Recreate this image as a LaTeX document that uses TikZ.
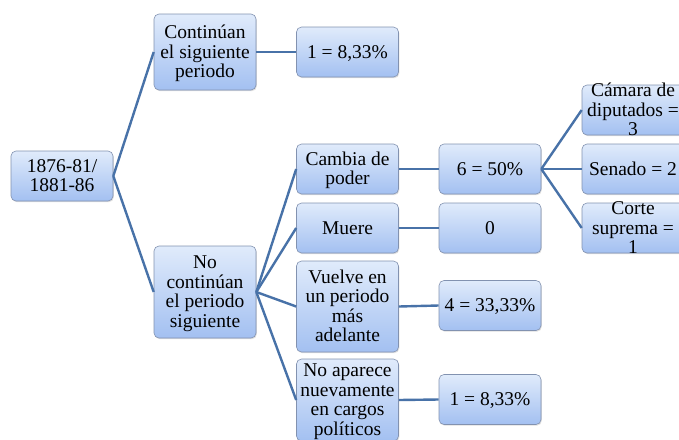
\documentclass[tikz,border=0pt]{standalone}
\usepackage{fontspec}
\setmainfont{Liberation Serif}
\usepackage{xcolor}
\usetikzlibrary{shadows}

\definecolor{boxtop}{RGB}{224,235,251}
\definecolor{boxbottom}{RGB}{163,192,241}
\definecolor{boxline}{RGB}{130,146,176}
\definecolor{linkblue}{RGB}{72,114,168}

\newcommand{\rows}[1]{\raisebox{-7.5pt}[0pt][0pt]{\begin{tabular}{@{}c@{}}#1\end{tabular}}}

\begin{document}
\begin{tikzpicture}[x=1pt, y=-1pt,
      box/.style = {shape=rectangle, rounded corners=5pt, draw=boxline,
        line width=0.6pt, top color=boxtop, bottom color=boxbottom,
        minimum width=102pt, minimum height=50pt, inner sep=0pt,
        drop shadow={shadow xshift=0.8pt, shadow yshift=-1.2pt, opacity=0.25},
        font=\fontsize{19.5}{19.5}\selectfont},
      link/.style = {draw=linkblue, line width=2.4pt}
    ]
      \useasboundingbox (0,0) rectangle (679,439);
      \clip (0,0) rectangle (679,439);

      % root and first split
      \node[box] (root) at (62,176) {\rows{1876-81/\\1881-86}};
      \node[box, minimum height=76pt] (siguen) at (205,52) {\rows{Contin\'uan\\el siguiente\\periodo}};
      \node[box, minimum height=92pt] (nosiguen) at (205,292) {\rows{No\\contin\'uan\\el periodo\\siguiente}};

      % second level
      \node[box] (siguenn) at (347.5,52) {\rows{1 = 8,33\%}};
      \node[box] (cambia) at (347.5,169) {\rows{Cambia de\\poder}};
      \node[box] (muere) at (347.5,228) {\rows{Muere}};
      \node[box, minimum height=91pt] (vuelve) at (347.5,306.5) {\rows{Vuelve en\\un periodo\\m\'as\\adelante}};
      \node[box, minimum height=82pt] (noaparece) at (347.5,400) {\rows{No aparece\\nuevamente\\en cargos\\pol\'iticos}};

      % third level
      \node[box] (cambian) at (490,169) {\rows{6 = 50\%}};
      \node[box] (muen) at (490,228) {\rows{0}};
      \node[box] (vuelven) at (490,305.5) {\rows{4 = 33,33\%}};
      \node[box] (noaparecen) at (490,399.5) {\rows{1 = 8,33\%}};

      % fourth level
      \node[box] (camara) at (633,110) {\rows{C\'amara de\\diputados =\\3}};
      \node[box] (senado) at (633,169) {\rows{Senado = 2}};
      \node[box] (corte) at (633,228) {\rows{Corte\\suprema =\\1}};

      % connectors
      \draw[link] (root.east) -- (siguen.west);
      \draw[link] (root.east) -- (nosiguen.west);
      \draw[link] (siguen.east) -- (siguenn.west);
      \foreach \child in {cambia, muere, vuelve, noaparece}
        \draw[link] (nosiguen.east) -- (\child.west);
      \draw[link] (cambia.east) -- (cambian.west);
      \draw[link] (muere.east) -- (muen.west);
      \draw[link] (vuelve.east) -- (vuelven.west);
      \draw[link] (noaparece.east) -- (noaparecen.west);
      \foreach \child in {camara, senado, corte}
        \draw[link] (cambian.east) -- (\child.west);
    \end{tikzpicture}
\end{document}
